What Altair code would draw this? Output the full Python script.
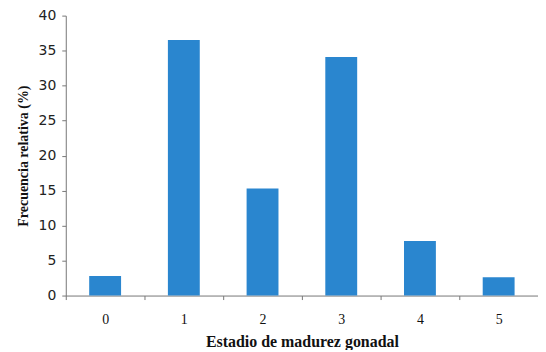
import altair as alt
import pandas as pd

stages = ["0", "1", "2", "3", "4", "5"]
freq = [2.8, 36.5, 15.3, 34.1, 7.8, 2.6]
y_ticks = [0, 5, 10, 15, 20, 25, 30, 35, 40]

df = pd.DataFrame({"stage": stages, "freq": freq})

chart = alt.Chart(df).mark_bar(size=32, color="#2a86cf").encode(
    x=alt.X("stage:O", sort=stages,
            scale=alt.Scale(paddingInner=0, paddingOuter=0),
            axis=alt.Axis(title="Estadio de madurez gonadal", labelAngle=0,
                          tickBand="extent", tickSize=4, tickColor="#777",
                          domainColor="#777", labelFont="Liberation Serif",
                          labelFontSize=14, labelColor="#111", labelPadding=13,
                          titleFont="Liberation Serif", titleFontSize=16,
                          titleFontWeight="bold", titleColor="#111", titlePadding=7)),
    y=alt.Y("freq:Q", scale=alt.Scale(domain=[0, 40]),
            axis=alt.Axis(title="Frecuencia relativa (%)", values=y_ticks,
                          grid=False, tickSize=4, tickColor="#777", domainColor="#777",
                          labelFont="DejaVu Sans", labelFontSize=14, labelColor="#222",
                          labelPadding=6,
                          titleFont="Liberation Serif", titleFontSize=14,
                          titleFontWeight="bold", titleColor="#111", titlePadding=8)),
).properties(
    width=474, height=281,
    autosize=alt.AutoSizeParams(type="none"),
    padding={"left": 58, "top": 7, "right": 0, "bottom": 54},
).configure_view(stroke=None)

chart.save("out.html", embed_options={"renderer": "svg", "actions": False})
